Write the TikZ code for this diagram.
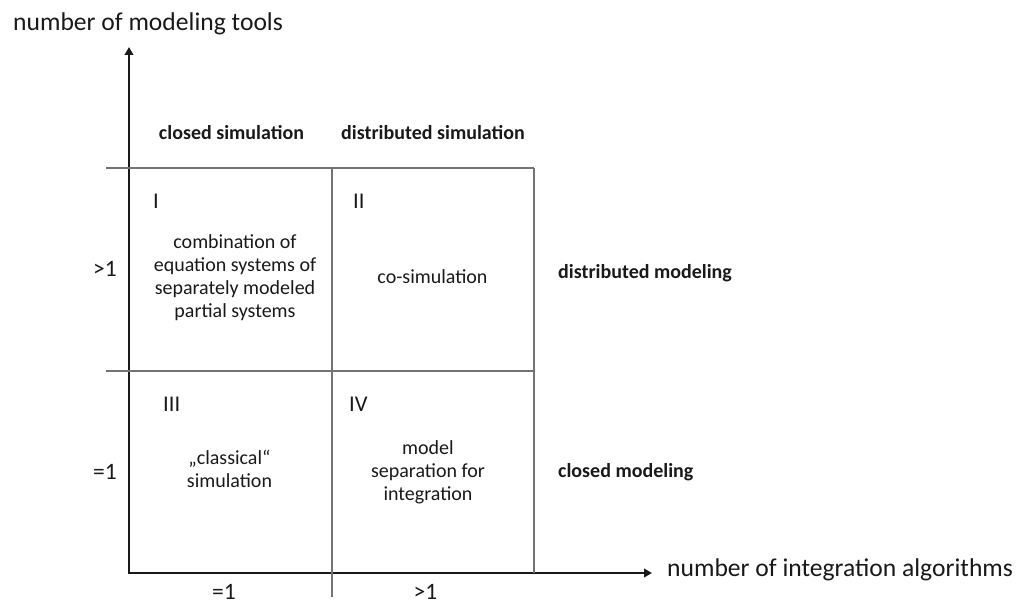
\documentclass[tikz,border=0pt]{standalone}
\usepackage{fontspec}
\setmainfont{Carlito}
\usetikzlibrary{arrows.meta}
\begin{document}
\begin{tikzpicture}[x=1pt,y=-1pt,
  axis/.style={line width=2.6pt, draw=black!90, line join=miter,
    {Triangle[length=8pt,width=8.5pt]}-{Triangle[length=8pt,width=8.5pt]}},
  gridline/.style={line width=1.2pt, draw=black!55},
  axislabel/.style={font=\fontsize{25.6}{30}\selectfont, inner sep=0pt, text=black!90},
  headlabel/.style={font=\fontsize{20}{24}\selectfont\bfseries, inner sep=0pt, text=black!90},
  ticklabel/.style={font=\fontsize{23.5}{28}\selectfont, inner sep=0pt, text=black!90},
  numeral/.style={font=\fontsize{22.5}{27}\selectfont, inner sep=0pt, text=black!90},
  celltext/.style={font=\fontsize{20}{23}\selectfont, inner sep=0pt, align=center, text=black!90}]
\useasboundingbox (0,0) rectangle (1019,604);

% axes
\coordinate (O) at (129,573);
\coordinate (ytip) at (129,47);
\coordinate (xtip) at (652,573);
\draw[axis] (ytip) -- (O) -- (xtip);

% quadrant grid
\coordinate (topL) at (106,168);
\coordinate (topR) at (534,168);
\coordinate (midL) at (106,371);
\coordinate (midR) at (534,371);
\coordinate (colT) at (332,168);
\coordinate (colB) at (332,597);
\coordinate (rightB) at (534,573);
\draw[gridline] (topL) -- (topR);
\draw[gridline] (midL) -- (midR);
\draw[gridline] (colT) -- (colB);
\draw[gridline] (topR) -- (rightB);

% axis titles
\node[axislabel, anchor=base west] (ytitle) at (13,30.5) {number of modeling tools};
\node[axislabel, anchor=base west] (xtitle) at (667,576) {number of integration algorithms};

% column and row headings
\node[headlabel, anchor=base] (closedsim) at (231.5,140) {closed simulation};
\node[headlabel, anchor=base] (distsim) at (433,140) {distributed simulation};
\node[headlabel, anchor=base west] (distmod) at (558,278) {distributed modeling};
\node[headlabel, anchor=base west] (closedmod) at (558,477) {closed modeling};

% tick values
\node[ticklabel, anchor=base east] (ygt) at (117,276) {>1};
\node[ticklabel, anchor=base east] (yeq) at (117,479) {=1};
\node[ticklabel, anchor=base] (xeq) at (224,599) {=1};
\node[ticklabel, anchor=base] (xgt) at (425.5,599) {>1};

% quadrant numbers
\node[numeral, anchor=base west] (q1) at (153,208) {I};
\node[numeral, anchor=base west] (q2) at (353,208) {II};
\node[numeral, anchor=base west] (q3) at (163,411) {III};
\node[numeral, anchor=base west] (q4) at (349,411) {IV};

% quadrant contents
\node[celltext] (c1) at (235,278) {combination of\\equation systems of\\separately modeled\\partial systems};
\node[celltext, anchor=base] (c2) at (432.5,283) {co-simulation};
\node[celltext] (c3) at (229.5,469) {„classical“\\simulation};
\node[celltext] (c4) at (428,472.5) {model\\separation for\\integration};
\end{tikzpicture}
\end{document}
